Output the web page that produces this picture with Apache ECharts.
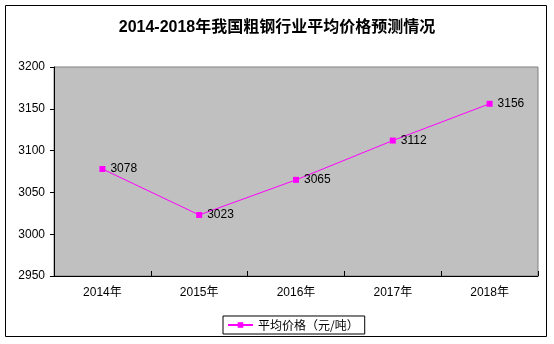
<!DOCTYPE html>
<html>
<head>
<meta charset="utf-8">
<script src="https://cdn.jsdelivr.net/npm/echarts@6/dist/echarts.min.js"></script>
<style>html,body{margin:0;padding:0;background:#fff;}#c{width:554px;height:344px;}</style>
</head>
<body>
<div id="c"></div>
<script>
var titleText = '2014-2018年我国粗钢行业平均价格预测情况';
var categories = ['2014年', '2015年', '2016年', '2017年', '2018年'];
var seriesName = '平均价格（元/吨）';
var values = [3078, 3023, 3065, 3112, 3156];
var yMin = 2950, yMax = 3200, yInterval = 50;

var chart = echarts.init(document.getElementById('c'), null, {renderer: 'canvas'});
var fontNum = "'Liberation Sans', Arial, 'Noto Sans CJK SC', sans-serif";
chart.setOption({
  animation: false,
  backgroundColor: '#fff',
  graphic: [{
    type: 'rect', shape: {x: 5.5, y: 5.5, width: 541, height: 331},
    style: {fill: 'none', stroke: '#000', lineWidth: 1}, silent: true, z: 0
  }],
  title: {
    text: titleText, left: 'center', top: 15,
    textStyle: {fontSize: 16, fontWeight: 'bold', color: '#000', fontFamily: fontNum}
  },
  grid: {
    left: 54, right: 16, top: 67, bottom: 68,
    show: true, backgroundColor: '#C0C0C0', borderColor: '#808080', borderWidth: 1
  },
  legend: {
    data: [seriesName], bottom: 10, left: 223,
    borderColor: '#000', borderWidth: 1, padding: [3, 6, 3, 4],
    itemWidth: 25, itemHeight: 7, itemGap: 4,
    textStyle: {fontSize: 12, color: '#000', fontFamily: "'Noto Sans CJK SC', sans-serif"}
  },
  xAxis: {
    type: 'category', data: categories, boundaryGap: true,
    axisLine: {show: true, lineStyle: {color: '#000', width: 1}},
    axisTick: {show: true, inside: true, length: 5, lineStyle: {color: '#000'}},
    axisLabel: {fontSize: 12, color: '#000', margin: 11, fontFamily: fontNum},
    splitLine: {show: false}
  },
  yAxis: {
    type: 'value', min: yMin, max: yMax, interval: yInterval,
    axisLine: {show: true, lineStyle: {color: '#000', width: 1}},
    axisTick: {show: true, inside: false, length: 4, lineStyle: {color: '#000'}},
    axisLabel: {fontSize: 12, color: '#000', margin: 9, fontFamily: fontNum,
      formatter: function (v) { return String(v); }},
    splitLine: {show: false}
  },
  series: [{
    name: seriesName, type: 'line', data: values,
    symbol: 'rect', symbolSize: 6,
    lineStyle: {color: '#FF00FF', width: 1},
    itemStyle: {color: '#FF00FF'},
    label: {show: true, position: 'right', distance: 5, fontSize: 12, color: '#000', fontFamily: fontNum}
  }]
});
</script>
</body>
</html>
